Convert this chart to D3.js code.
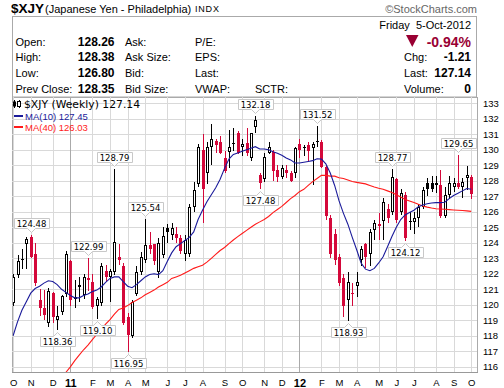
<!DOCTYPE html>
<html>
<head>
<meta charset="utf-8">
<script src="https://cdn.jsdelivr.net/npm/d3@7.9.0/dist/d3.min.js"></script>
<style>
  html, body { margin: 0; padding: 0; background: #fff; }
  svg { display: block; }
  text { font-family: "Liberation Sans", Arial, sans-serif; }
</style>
</head>
<body>
<svg id="chart" width="504" height="388"></svg>
<script>
/* ---------------------------------------------------------
   DATA  ($XJY weekly, Oct 2010 - Oct 2012)
--------------------------------------------------------- */
const weeks = d3.timeMonday.range(new Date(2010, 9, 4), new Date(2012, 9, 2));

const opens = [
  120.1, 121.9, 122.95, 123.95, 124.4, 123.3, 120.3, 119.8, 118.8, 120.74,
  119.0, 119.55, 120.7, 122.8, 120.35, 121.3, 120.65, 121.72, 121.5, 119.9,
  120.1, 122.2, 121.82, 122.14, 123.1, 122.5, 119.2, 118.0, 120.7, 122.1,
  122.9, 123.86, 123.9, 122.14, 123.2, 124.93, 124.5, 124.6, 124.3, 123.3,
  123.3, 126.33, 127.8, 130.0, 128.5, 130.2, 130.55, 130.5, 129.45, 129.88,
  130.45, 131.1, 130.2, 130.46, 129.45, 131.45, 128.37, 128.1, 129.77, 129.88,
  128.7, 128.27, 128.7, 128.5, 128.5, 130.4, 130.15, 130.3, 130.1, 130.55,
  130.5, 128.9, 125.6, 124.6, 123.1, 121.7, 120.3, 120.75, 121.2, 122.9,
  123.9, 123.3, 124.8, 125.2, 125.4, 126.2, 126.0, 128.1, 126.0, 127.1,
  125.4, 125.36, 125.6, 126.33, 127.84, 127.85, 127.7, 127.75, 125.75, 127.1,
  127.62, 127.84, 127.62, 128.2, 128.26
];
const highs = [
  122.0, 123.2, 123.6, 124.35, 124.48, 124.0, 121.0, 120.95, 121.1, 120.85,
  119.9, 120.65, 123.5, 122.9, 121.6, 121.8, 122.0, 122.99, 122.0, 120.5,
  122.7, 122.6, 122.3, 128.79, 123.9, 122.7, 119.5, 120.3, 122.5, 123.4,
  125.54, 124.7, 123.95, 124.3, 125.0, 125.2, 125.3, 125.0, 124.5, 124.5,
  126.5, 127.9, 130.4, 131.0, 130.5, 131.67, 130.7, 130.9, 129.9, 131.3,
  131.4, 131.2, 130.7, 131.4, 131.1, 132.18, 128.5, 129.8, 130.5, 130.0,
  129.0, 129.0, 129.0, 128.6, 130.2, 130.7, 130.3, 130.5, 130.5, 131.52,
  130.6, 129.0, 125.8, 124.9, 123.3, 122.0, 122.1, 121.4, 122.1, 123.8,
  124.0, 124.9, 125.5, 125.9, 126.9, 126.5, 128.77, 128.2, 127.5, 127.3,
  126.0, 126.0, 126.5, 127.6, 128.2, 128.3, 128.3, 128.7, 127.6, 128.3,
  128.2, 129.65, 128.2, 128.95, 128.38
];
const lows = [
  119.9, 121.7, 122.3, 122.3, 123.0, 121.2, 119.3, 119.0, 118.6, 118.8,
  118.36, 119.35, 120.5, 119.9, 119.8, 120.2, 120.4, 120.9, 119.7, 119.1,
  119.9, 121.5, 120.2, 121.9, 122.6, 118.7, 116.95, 117.85, 120.6, 121.9,
  122.7, 123.3, 122.6, 121.7, 123.0, 124.0, 124.2, 124.0, 123.3, 122.8,
  123.1, 126.0, 127.6, 125.3, 127.8, 129.0, 129.8, 129.7, 128.5, 128.8,
  129.9, 129.7, 129.6, 129.6, 129.3, 131.06, 127.48, 127.9, 129.7, 128.0,
  127.9, 128.1, 128.2, 127.9, 128.2, 129.5, 129.6, 129.3, 127.7, 130.2,
  128.8, 125.5, 123.0, 122.6, 121.2, 119.2, 118.93, 119.9, 120.5, 122.5,
  122.4, 122.5, 124.2, 124.2, 124.2, 125.3, 125.8, 125.3, 125.8, 124.12,
  124.8, 124.6, 125.0, 126.2, 127.0, 127.3, 127.2, 125.6, 125.6, 126.8,
  127.3, 127.5, 126.9, 127.4, 126.80
];
const closes = [
  121.8, 122.8, 122.9, 124.25, 123.1, 121.4, 119.8, 119.35, 120.9, 119.2,
  119.3, 120.57, 123.25, 120.3, 120.5, 121.15, 121.8, 121.6, 119.85, 120.35,
  122.5, 121.8, 122.18, 124.07, 122.9, 118.8, 118.05, 120.2, 122.1, 123.1,
  123.86, 123.6, 122.8, 123.97, 124.45, 124.72, 124.93, 124.3, 123.5, 124.2,
  126.3, 127.4, 130.2, 127.5, 130.2, 130.7, 130.3, 129.8, 128.6, 130.2,
  130.35, 129.8, 130.4, 129.8, 131.06, 131.9, 127.84, 129.56, 130.2, 128.6,
  128.27, 128.8, 128.5, 128.0, 130.1, 130.0, 130.1, 129.9, 130.4, 130.5,
  128.9, 125.7, 123.3, 122.9, 121.4, 119.9, 121.5, 120.7, 121.5, 123.6,
  123.1, 124.7, 125.26, 125.1, 126.65, 125.6, 128.27, 125.5, 127.2, 124.3,
  125.35, 125.62, 126.33, 127.4, 127.45, 127.5, 127.85, 125.7, 127.1, 127.84,
  127.84, 127.62, 127.95, 128.35, 127.14
];
const ma10 = [
  118.0, 118.9, 119.65, 120.2, 120.75, 121.05, 121.2, 121.4, 121.55, 121.5,
  121.3, 121.0, 120.8, 120.6, 120.45, 120.45, 120.6, 120.7, 120.85, 120.95,
  121.15, 121.45, 121.7, 121.8, 121.8, 121.5, 121.2, 121.1, 121.3, 121.55,
  121.8, 121.95, 122.0, 121.95, 122.2, 122.8, 123.35, 123.75, 123.95, 124.15,
  124.35, 124.7, 125.5, 126.1, 126.65, 127.1, 127.55, 128.1, 128.8, 129.4,
  129.7, 129.8, 129.9, 130.0, 130.1, 130.2, 130.05, 130.05, 130.0, 129.88,
  129.77, 129.65, 129.47, 129.35, 129.15, 129.15, 129.2, 129.25, 129.3, 129.42,
  129.4, 129.1, 128.5, 127.7, 126.7, 125.9, 125.2, 124.35, 123.55, 122.7,
  122.3, 122.2, 122.35, 122.7, 123.1, 123.75, 124.4, 125.0, 125.5, 125.8,
  125.95, 126.1, 126.33, 126.44, 126.52, 126.57, 126.59, 126.59, 126.62, 126.85,
  127.05, 127.19, 127.35, 127.5, 127.45
];
const ma40 = [
  null, null, null, null, null, null, null, null, null, null,
  null, null, 115.65, 116.0, 116.4, 116.75, 117.1, 117.4, 117.75, 118.1,
  118.4, 118.75, 119.05, 119.4, 119.7, 119.8, 119.95, 120.15, 120.3, 120.45,
  120.65, 120.8, 120.95, 121.15, 121.3, 121.45, 121.7, 121.8, 121.9, 122.05,
  122.2, 122.35, 122.45, 122.55, 122.75, 123.0, 123.25, 123.5, 123.7, 123.95,
  124.18, 124.4, 124.6, 124.8, 125.0, 125.2, 125.35, 125.5, 125.7, 125.95,
  126.15, 126.35, 126.6, 126.85, 127.05, 127.3, 127.45, 127.7, 127.95, 128.15,
  128.35, 128.35, 128.3, 128.3, 128.2, 128.15, 128.05, 127.95, 127.9, 127.85,
  127.8, 127.7, 127.6, 127.52, 127.45, 127.35, 127.25, 127.1, 126.95, 126.8,
  126.7, 126.6, 126.48, 126.38, 126.3, 126.24, 126.2, 126.18, 126.16, 126.14,
  126.12, 126.1, 126.08, 126.06, 126.03
];

// swing labels
const calloutWeek  = [4, 10, 17, 19, 23, 26, 30, 55, 56, 69, 76, 86, 89, 101];
const calloutValue = [124.48, 118.36, 122.99, 119.10, 128.79, 116.95, 125.54,
                      132.18, 127.48, 131.52, 118.93, 128.77, 124.12, 129.65];
const calloutSide  = ['high', 'low', 'high', 'low', 'high', 'low', 'high',
                      'high', 'low', 'high', 'low', 'high', 'low', 'high'];

const priceTicks = d3.range(116, 134);

// header panel
const quoteLabels = ['Open:', 'High:', 'Low:', 'Prev Close:'];
const quoteValues = ['128.26', '128.38', '126.80', '128.35'];
const col2Labels = ['Ask:', 'Ask Size:', 'Bid:', 'Bid Size:'];
const col3Labels = ['P/E:', 'EPS:', 'Last:', 'VWAP:'];
const rightLabels = ['Chg:', 'Last:', 'Volume:'];
const rightValues = ['-1.21', '127.14', '0'];

/* ---------------------------------------------------------
   SETUP
--------------------------------------------------------- */
const svg = d3.select('#chart');
const plot = { left: 12, right: 477, top: 97, bottom: 372 };

const bars = weeks.map((d, i) => ({
  date: d, o: opens[i], h: highs[i], l: lows[i], c: closes[i],
  prev: i > 0 ? closes[i - 1] : null,
}));

const xScale = d3.scalePoint().domain(weeks).range([13.1, 471.2]);
const yScale = d3.scaleLinear().domain([115.665, 133.406]).range([plot.bottom, plot.top]);

const RED = '#d4083a';
const DARKRED = '#990033';

/* ---------------------------------------------------------
   HEADER
--------------------------------------------------------- */
svg.append('text').attr('x', 11).attr('y', 13)
  .style('font-size', '13.5px').style('font-weight', 'bold').text('$XJY');
svg.append('text').attr('x', 45).attr('y', 12.5)
  .style('font-size', '11px').text('(Japanese Yen - Philadelphia)');
svg.append('text').attr('x', 195).attr('y', 12)
  .style('font-size', '9px').style('letter-spacing', '0.8px').text('INDX');
svg.append('text').attr('x', 477).attr('y', 12.5).attr('text-anchor', 'end')
  .style('font-size', '11px').attr('fill', '#666').text('\u00a9StockCharts.com');

svg.append('rect')
  .attr('x', 12.5).attr('y', 16.5).attr('width', 464).attr('height', 80.5)
  .attr('fill', '#fff').attr('stroke', '#aaa');

const rowY = [45.5, 60.5, 76.5, 93];
const info = svg.append('g').style('font-size', '11px');
quoteLabels.forEach((t, i) => {
  info.append('text').attr('x', 15.5).attr('y', rowY[i]).text(t);
  info.append('text').attr('x', 114.5).attr('y', rowY[i]).attr('text-anchor', 'end')
    .style('font-weight', 'bold').style('font-size', '12px').text(quoteValues[i]);
  info.append('text').attr('x', 125).attr('y', rowY[i]).text(col2Labels[i]);
  info.append('text').attr('x', 195).attr('y', rowY[i]).text(col3Labels[i]);
});
info.append('text').attr('x', 255).attr('y', rowY[3]).text('SCTR:');
rightLabels.forEach((t, i) => {
  info.append('text').attr('x', 404).attr('y', rowY[i + 1]).text(t);
  info.append('text').attr('x', 471).attr('y', rowY[i + 1]).attr('text-anchor', 'end')
    .style('font-weight', 'bold').style('font-size', '12px').text(rightValues[i]);
});
info.append('text').attr('x', 471).attr('y', 29).attr('text-anchor', 'end')
  .text('Friday\u00a0\u00a05-Oct-2012');
info.append('text').attr('x', 471).attr('y', 47).attr('text-anchor', 'end')
  .style('font-size', '14px').style('font-weight', 'bold').attr('fill', DARKRED).text('-0.94%');
info.append('path').attr('d', 'M406,35 L418.5,35 L412.25,47 Z').attr('fill', DARKRED);

/* ---------------------------------------------------------
   GRID
--------------------------------------------------------- */
const monthStarts = weeks.filter((d, i) => i === 0 || d.getMonth() !== weeks[i - 1].getMonth());

svg.append('rect')
  .attr('x', plot.left + 0.5).attr('y', plot.top + 0.5)
  .attr('width', plot.right - plot.left).attr('height', plot.bottom - plot.top)
  .attr('fill', '#fff').attr('stroke', '#aaa');

const grid = svg.append('g').attr('shape-rendering', 'crispEdges');
grid.selectAll('line.h').data(priceTicks).join('line')
  .attr('x1', plot.left).attr('x2', plot.right)
  .attr('y1', (d) => Math.round(yScale(d)) + 0.5).attr('y2', (d) => Math.round(yScale(d)) + 0.5)
  .attr('stroke', '#d9d9d9');
grid.selectAll('line.v').data(monthStarts).join('line')
  .attr('x1', (d) => Math.round(xScale(d)) + 0.5).attr('x2', (d) => Math.round(xScale(d)) + 0.5)
  .attr('y1', plot.top).attr('y2', plot.bottom)
  .attr('stroke', (d) => (d.getMonth() === 0 ? '#aaa' : '#d9d9d9'));

// axes
const yAxis = d3.axisRight(yScale).tickValues(priceTicks).tickSize(0).tickPadding(6);
svg.append('g').attr('transform', `translate(${plot.right},0)`).call(yAxis)
  .call((g) => g.select('.domain').remove())
  .selectAll('text').style('font-size', '9.5px').attr('fill', '#000');

const xAxis = d3.axisBottom(xScale).tickValues(monthStarts).tickSize(0).tickPadding(7)
  .tickFormat((d) => (d.getMonth() === 0 ? d3.timeFormat('%y')(d) : d3.timeFormat('%b')(d)[0]));
svg.append('g').attr('transform', `translate(0,${plot.bottom})`).call(xAxis)
  .call((g) => g.select('.domain').remove())
  .selectAll('text')
  .style('font-size', (d) => (d.getMonth() === 0 ? '11px' : '9.5px'))
  .style('font-weight', (d) => (d.getMonth() === 0 ? 'bold' : 'normal'))
  .attr('fill', '#000');

svg.append('line')
  .attr('x1', plot.left).attr('x2', plot.right + 1)
  .attr('y1', plot.bottom + 0.5).attr('y2', plot.bottom + 0.5)
  .attr('stroke', '#999');

/* ---------------------------------------------------------
   CANDLES
--------------------------------------------------------- */
svg.append('clipPath').attr('id', 'clip').append('rect')
  .attr('x', plot.left + 1).attr('y', plot.top + 1)
  .attr('width', plot.right - plot.left - 1).attr('height', plot.bottom - plot.top - 1);

const area = svg.append('g').attr('clip-path', 'url(#clip)');

const colorOf = (d) => (d.prev === null || d.c >= d.prev ? '#000' : RED);

const candles = area.append('g').attr('shape-rendering', 'crispEdges')
  .selectAll('g').data(bars).join('g');

candles.append('rect')
  .attr('x', (d) => Math.round(xScale(d.date)))
  .attr('y', (d) => Math.round(yScale(d.h)))
  .attr('width', 1)
  .attr('height', (d) => Math.max(1, Math.round(yScale(d.l)) - Math.round(yScale(d.h))))
  .attr('fill', colorOf);

candles.append('rect')
  .attr('x', (d) => Math.round(xScale(d.date)) - 1)
  .attr('y', (d) => Math.round(yScale(Math.max(d.o, d.c))))
  .attr('width', 3)
  .attr('height', (d) => Math.max(1, Math.round(yScale(Math.min(d.o, d.c))) - Math.round(yScale(Math.max(d.o, d.c)))))
  .attr('fill', colorOf);

// hollow interior for up candles
candles.filter((d) => d.c > d.o)
  .append('rect')
  .attr('x', (d) => Math.round(xScale(d.date)))
  .attr('y', (d) => Math.round(yScale(d.c)) + 1)
  .attr('width', 1)
  .attr('height', (d) => Math.max(0, Math.round(yScale(d.o)) - Math.round(yScale(d.c)) - 2))
  .attr('fill', '#fff');

/* ---------------------------------------------------------
   MOVING AVERAGES
--------------------------------------------------------- */
const maLine = (arr) => d3.line()
  .defined((d, i) => arr[i] !== null)
  .x((d) => xScale(d))
  .y((d, i) => yScale(arr[i]));

area.append('path').attr('d', maLine(ma40)(weeks))
  .attr('fill', 'none').attr('stroke', '#ff1a1a').attr('stroke-width', 1.1);
area.append('path').attr('d', maLine(ma10)(weeks))
  .attr('fill', 'none').attr('stroke', '#1a1a9a').attr('stroke-width', 1.1);

/* ---------------------------------------------------------
   LEGEND
--------------------------------------------------------- */
const leg = svg.append('g');
// tiny candle glyph
leg.append('rect').attr('x', 14).attr('y', 100).attr('width', 1).attr('height', 8).attr('fill', '#000');
leg.append('rect').attr('x', 13).attr('y', 101.5).attr('width', 3).attr('height', 5).attr('fill', '#000');
leg.append('rect').attr('x', 19).attr('y', 100).attr('width', 1).attr('height', 8).attr('fill', '#000');
leg.append('rect').attr('x', 17.5).attr('y', 101.5).attr('width', 3).attr('height', 5)
  .attr('fill', '#fff').attr('stroke', '#000');
leg.append('text').attr('x', 24).attr('y', 107.5)
  .style('font-family', '"DejaVu Sans", Verdana, sans-serif').style('font-size', '10.8px')
  .text('$XJY (Weekly) 127.14');
leg.append('rect').attr('x', 14).attr('y', 115).attr('width', 9).attr('height', 2).attr('fill', '#1a1a9a');
leg.append('text').attr('x', 25).attr('y', 119.5).style('font-size', '9.5px')
  .attr('fill', '#1a1a9a').text('MA(10) 127.45');
leg.append('rect').attr('x', 14).attr('y', 126).attr('width', 9).attr('height', 2).attr('fill', '#ff1a1a');
leg.append('text').attr('x', 25).attr('y', 130.5).style('font-size', '9.5px')
  .attr('fill', '#ff1a1a').text('MA(40) 126.03');

/* ---------------------------------------------------------
   CALLOUTS
--------------------------------------------------------- */
const callouts = svg.append('g');
calloutWeek.forEach((wi, k) => {
  const cx = Math.round(xScale(weeks[wi])) + 0.5;
  const py = yScale(calloutValue[k]);
  const label = calloutValue[k].toFixed(2);
  const g = callouts.append('g');
  const t = g.append('text')
    .style('font-family', '"DejaVu Sans", Verdana, sans-serif').style('font-size', '8.5px')
    .attr('text-anchor', 'middle').attr('x', cx).text(label);
  const w = t.node().getComputedTextLength() + 5;
  const bh = 10;
  const left = Math.round(cx - w / 2) + 0.5;
  const right = left + Math.round(w);
  let top, path;
  if (calloutSide[k] === 'high') {
    const tip = Math.round(py) - 2.5;
    const bottom = tip - 4;
    top = bottom - bh;
    path = `M${left},${top}H${right}V${bottom}H${cx + 4}L${cx},${tip}L${cx - 4},${bottom}H${left}Z`;
  } else {
    const tip = Math.round(py) + 2.5;
    top = tip + 4;
    const bottom = top + bh;
    path = `M${left},${top}H${cx - 4}L${cx},${tip}L${cx + 4},${top}H${right}V${bottom}H${left}Z`;
  }
  g.insert('path', 'text').attr('d', path).attr('fill', '#fff').attr('stroke', '#c8c8c8');
  t.attr('y', top + 8);
});
</script>
</body>
</html>
